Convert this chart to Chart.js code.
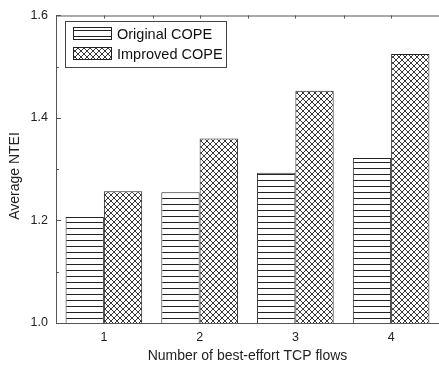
<!DOCTYPE html>
<html>
<head>
<meta charset="utf-8">
<script src="https://cdn.jsdelivr.net/npm/chart.js@4.4.1/dist/chart.umd.min.js"></script>
<style>
  html, body { margin: 0; padding: 0; background: #fff; }
  #ntei { display: block; }
</style>
</head>
<body>
<canvas id="ntei" width="439" height="368"></canvas>
<script>
const flows = ["1", "2", "3", "4"];
const originalCope = [1.207, 1.255, 1.293, 1.322];
const improvedCope = [1.257, 1.360, 1.453, 1.525];
const yTicks = [1.0, 1.2, 1.4, 1.6];

const inkColor = "#222";
const axisColor = "#555";
const fontFamily = "'Liberation Sans', Arial, sans-serif";

// horizontal stripes for the original scheme
function stripePattern() {
    const c = document.createElement("canvas");
    c.width = 6;
    c.height = 6;
    const g = c.getContext("2d");
    g.fillStyle = "#fff";
    g.fillRect(0, 0, 6, 6);
    g.strokeStyle = inkColor;
    g.lineWidth = 1;
    g.beginPath();
    g.moveTo(0, 0.5);
    g.lineTo(6, 0.5);
    g.stroke();
    return g.createPattern(c, "repeat");
}

// diagonal cross-hatch for the improved scheme
function hatchPattern() {
    const c = document.createElement("canvas");
    c.width = 6;
    c.height = 6;
    const g = c.getContext("2d");
    g.fillStyle = "#fff";
    g.fillRect(0, 0, 6, 6);
    g.strokeStyle = inkColor;
    g.lineWidth = 0.9;
    g.beginPath();
    g.moveTo(-1, -1);
    g.lineTo(7, 7);
    g.moveTo(-1, 7);
    g.lineTo(7, -1);
    g.stroke();
    return g.createPattern(c, "repeat");
}

const stripes = stripePattern();
const hatch = hatchPattern();

// top axis line, inward ticks, y title and the boxed legend
const frameAndLegend = {
    id: "frameAndLegend",
    afterDraw(chart) {
        const ctx = chart.ctx;
        const area = chart.chartArea;
        const x = chart.scales.x;
        const y = chart.scales.y;
        ctx.save();
        ctx.strokeStyle = axisColor;
        ctx.lineWidth = 1;
        ctx.beginPath();
        ctx.moveTo(area.left, area.top + 0.5);
        ctx.lineTo(area.right, area.top + 0.5);

        // y ticks: major every 0.2, minor in between
        for (let v = 1.0; v <= 1.6001; v += 0.1) {
            const py = Math.round(y.getPixelForValue(v)) + 0.5;
            const major = Math.round(v * 10) % 2 === 0;
            ctx.moveTo(area.left, py);
            ctx.lineTo(area.left + (major ? 5 : 3), py);
        }
        // top ticks at category centres and between them
        const step = (x.getPixelForValue(1) - x.getPixelForValue(0)) / 2;
        for (let i = 0; i < flows.length; i++) {
            const cx = Math.round(x.getPixelForValue(i)) + 0.5;
            ctx.moveTo(cx, area.top);
            ctx.lineTo(cx, area.top + 3);
            if (i > 0) {
                const mx = Math.round(cx - step) + 0.5;
                ctx.moveTo(mx, area.top);
                ctx.lineTo(mx, area.top + 3);
            }
        }
        ctx.stroke();

        // y axis title
        ctx.save();
        ctx.translate(15, 176);
        ctx.rotate(-Math.PI / 2);
        ctx.font = "14px " + fontFamily;
        ctx.fillStyle = "#222";
        ctx.textAlign = "center";
        ctx.textBaseline = "middle";
        ctx.fillText("Average NTEI", 0, 0);
        ctx.restore();

        // legend box
        const bx = 65.5, by = 21.5, bw = 161, bh = 46;
        ctx.fillStyle = "#fff";
        ctx.fillRect(bx, by, bw, bh);
        ctx.strokeStyle = "#444";
        ctx.strokeRect(bx, by, bw, bh);

        ctx.font = "14.5px " + fontFamily;
        ctx.textBaseline = "middle";
        ctx.textAlign = "left";
        chart.data.datasets.forEach(function (ds, i) {
            const sy = 27 + i * 20;
            ctx.fillStyle = ds.backgroundColor;
            ctx.fillRect(73, sy, 38, 13);
            ctx.strokeStyle = inkColor;
            ctx.strokeRect(73.5, sy + 0.5, 38, 12);
            ctx.fillStyle = "#111";
            ctx.fillText(ds.label, 117, sy + 7.5);
        });
        ctx.restore();
    },
};

new Chart(document.getElementById("ntei"), {
    type: "bar",
    data: {
        labels: flows,
        datasets: [
            {
                label: "Original COPE",
                data: originalCope,
                backgroundColor: stripes,
                borderColor: inkColor,
                borderWidth: 1,
            },
            {
                label: "Improved COPE",
                data: improvedCope,
                backgroundColor: hatch,
                borderColor: inkColor,
                borderWidth: 1,
            },
        ],
    },
    plugins: [frameAndLegend],
    options: {
        responsive: false,
        animation: false,
        devicePixelRatio: 1,
        layout: {
            padding: { top: 11, right: 0, left: 0, bottom: 0 },
        },
        datasets: {
            bar: {
                categoryPercentage: 0.8,
                barPercentage: 1.0,
            },
        },
        plugins: {
            legend: { display: false },
            tooltip: { enabled: false },
        },
        scales: {
            x: {
                grid: { display: false, drawTicks: false },
                border: { display: true, color: axisColor, width: 1 },
                ticks: {
                    color: "#222",
                    padding: 7,
                    font: { family: fontFamily, size: 12.5 },
                },
                title: {
                    display: true,
                    text: "Number of best-effort TCP flows",
                    color: "#222",
                    padding: { top: 0, bottom: 3 },
                    font: { family: fontFamily, size: 14 },
                },
                afterFit: function (scale) {
                    scale.height = 45;
                },
            },
            y: {
                min: 1.0,
                max: 1.6,
                grid: { display: false, drawTicks: false },
                border: { display: true, color: axisColor, width: 1 },
                afterBuildTicks: function (scale) {
                    scale.ticks = yTicks.map(function (v) { return { value: v }; });
                },
                ticks: {
                    color: "#222",
                    padding: 8,
                    font: { family: fontFamily, size: 12.5 },
                    callback: function (value) {
                        return Number(value).toFixed(1);
                    },
                },
                afterFit: function (scale) {
                    scale.width = 56;
                },
            },
        },
    },
});
</script>
</body>
</html>
